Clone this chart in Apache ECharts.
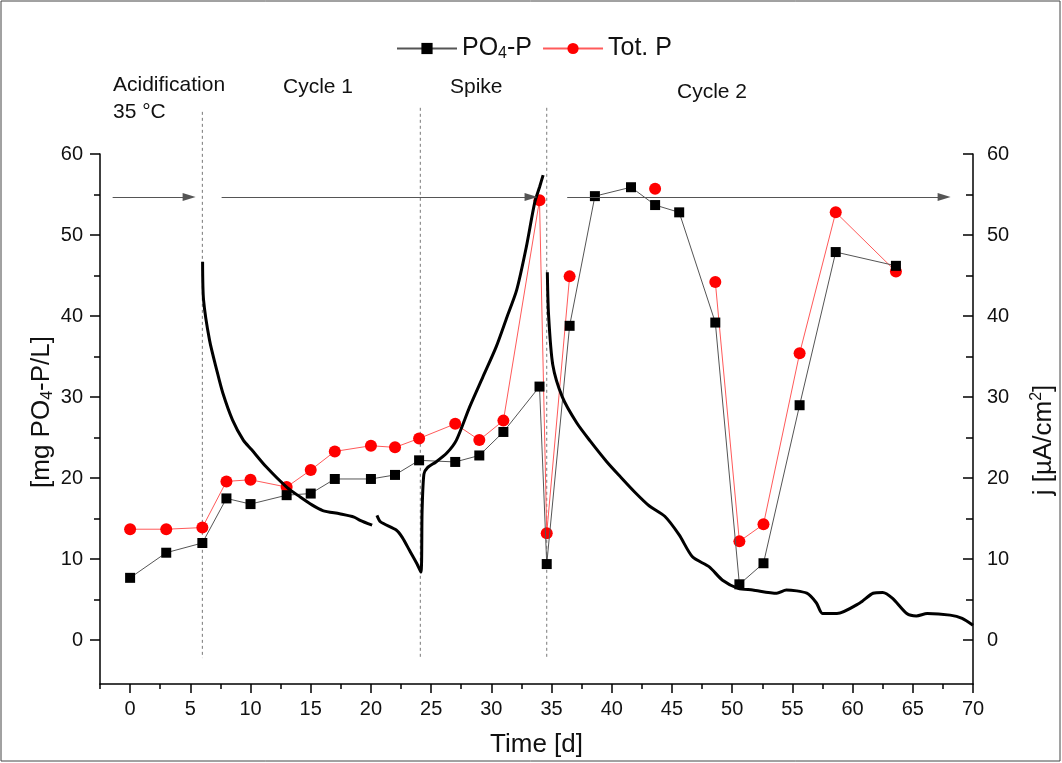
<!DOCTYPE html>
<html>
<head>
<meta charset="utf-8">
<script src="https://cdn.jsdelivr.net/npm/echarts@6/dist/echarts.min.js"></script>
<style>
  html, body { margin: 0; padding: 0; background: #fff; }
  #chart { width: 1062px; height: 763px; }
</style>
</head>
<body>
<div id="chart"></div>
<script>
const FONT = '"Liberation Sans", Arial, sans-serif';

// sampling days of the P measurements
const days = [0, 3, 6, 8, 10, 13, 15, 17, 20, 22, 24, 27, 29, 31, 34, 34.6, 36.5, 38.6, 41.6, 43.6, 45.6, 48.6, 50.6, 52.6, 55.6, 58.6, 63.6];
const po4 = [7.7, 10.8, 12.0, 17.5, 16.8, 17.9, 18.1, 19.9, 19.9, 20.4, 22.2, 22.0, 22.8, 25.7, 31.3, 9.4, 38.8, 54.8, 55.9, 53.7, 52.8, 39.2, 6.9, 9.5, 29.0, 47.9, 46.2];
const totP = [13.7, 13.7, 13.9, 19.6, 19.8, 18.9, 21.0, 23.3, 24.0, 23.8, 24.9, 26.7, 24.7, 27.1, 54.3, 13.2, 44.9, null, null, 55.7, null, 44.2, 12.2, 14.3, 35.4, 52.8, 45.5];

// current density j (right axis), null = gap in the record
const jDays = [6.02, 6.1, 6.6, 7.2, 7.7, 8.5, 9.4, 10.1, 11.3, 13.0, 14.1, 15.1, 16.0, 17.4, 18.6, 19.1, 20.1, 20.3,
  20.5, 20.8, 22.1, 22.6, 23.2, 23.8, 24.15, 24.25, 24.4, 24.7, 25.4, 26.3, 27.1, 28.2, 29.3, 30.4, 31.3, 32.1, 32.9, 33.6, 34.0, 34.3, 34.5,
  34.65, 34.75, 35.1, 35.9, 37.1, 38.2, 39.6, 40.7, 41.9, 43.1, 44.4, 45.6, 46.7, 48.1, 49.2, 50.5, 51.7, 53.7, 54.5, 56.2, 57.0, 57.5,
  58.7, 60.6, 61.7, 62.5, 63.3, 64.5, 65.3, 66.2, 68.1, 69.1, 70.0];
const jValues = [46.7, 42.0, 37.0, 33.3, 30.5, 27.2, 24.7, 23.5, 21.4, 18.9, 17.7, 16.7, 16.0, 15.6, 15.2, 14.8, 14.2, null,
  15.4, 14.6, 13.6, 12.7, 11.1, 9.5, 8.4, 16.0, 20.5, 21.3, 22.0, 23.1, 24.7, 28.8, 32.5, 36.2, 39.9, 43.2, 48.5, 54.0, 55.9, 57.4, null,
  45.4, 40.2, 34.0, 30.0, 26.8, 24.6, 22.0, 20.2, 18.3, 16.6, 15.3, 13.0, 10.3, 9.05, 7.4, 6.4, 6.2, 5.8, 6.2, 5.8, 4.6, 3.3,
  3.3, 4.6, 5.8, 5.9, 5.2, 3.3, 3.0, 3.3, 3.1, 2.7, 1.85];

const xTicks = [0, 5, 10, 15, 20, 25, 30, 35, 40, 45, 50, 55, 60, 65, 70];
const xMinor = [-2.5, 2.5, 7.5, 12.5, 17.5, 22.5, 27.5, 32.5, 37.5, 42.5, 47.5, 52.5, 57.5, 62.5, 67.5];
const yTicks = [0, 10, 20, 30, 40, 50, 60];
const yMinor = [5, 15, 25, 35, 45, 55];

// phase boundaries (dashed) and phase arrows
const phaseBounds = [6.0, 24.1, 34.6];
const phaseTop = [65.2, 65.7, 65.7];
const phaseBottom = -2.2;
const arrowSpans = [[-1.45, 4.9], [7.6, 33.3], [36.3, 67.6]];
const arrowLevel = 54.7;

const chart = echarts.init(document.getElementById('chart'));

const axisLine = { onZero: false, lineStyle: { color: '#000', width: 1.5 } };
const tickLine = { color: '#000', width: 1.5 };
const labelStyle = { color: '#111', fontFamily: FONT };

function minorAxis(extra) {
  return Object.assign({
    type: 'value',
    axisLine: { show: false, onZero: false },
    axisLabel: { show: false },
    splitLine: { show: false }
  }, extra);
}

const option = {
  animation: false,
  backgroundColor: '#fff',
  grid: { left: 100, right: 89, top: 154, bottom: 79, containLabel: false },
  legend: {
    data: ['PO4-P', 'Tot. P'],
    left: 391,
    top: 20,
    itemWidth: 60,
    itemHeight: 14,
    itemGap: 10,
    textStyle: {
      fontFamily: FONT,
      fontSize: 25,
      color: '#111',
      rich: {
        n: { fontFamily: FONT, fontSize: 25, color: '#111', lineHeight: 27 },
        sub: { fontFamily: FONT, fontSize: 16, color: '#111', lineHeight: 14, padding: [21, 0, 0, 0], verticalAlign: 'bottom' }
      }
    },
    formatter: function (name) {
      return name === 'PO4-P' ? '{n|PO}{sub|4}{n|-P}' : '{n|' + name + '}';
    }
  },
  xAxis: [
    {
      type: 'value', min: -2.5, max: 70, position: 'bottom',
      axisLine: axisLine,
      axisTick: { customValues: xTicks, length: 9, lineStyle: tickLine },
      axisLabel: Object.assign({ customValues: xTicks, fontSize: 20, margin: 15 }, labelStyle),
      splitLine: { show: false },
      name: 'Time [d]', nameLocation: 'middle', nameGap: 48,
      nameTextStyle: { fontFamily: FONT, fontSize: 26, color: '#111' }
    },
    minorAxis({ min: -2.5, max: 70, position: 'bottom',
      axisTick: { customValues: xMinor, length: 5, lineStyle: tickLine } })
  ],
  yAxis: [
    {
      type: 'value', min: -5.4, max: 60, position: 'left',
      axisLine: axisLine,
      axisTick: { customValues: yTicks, length: 10, lineStyle: tickLine },
      axisLabel: Object.assign({ customValues: yTicks, fontSize: 20, margin: 17 }, labelStyle),
      splitLine: { show: false }
    },
    {
      type: 'value', min: -5.4, max: 60, position: 'right',
      axisLine: axisLine,
      axisTick: { customValues: yTicks, inside: true, length: 10, lineStyle: tickLine },
      axisLabel: Object.assign({ customValues: yTicks, fontSize: 20, margin: 14 }, labelStyle),
      splitLine: { show: false }
    },
    minorAxis({ min: -5.4, max: 60, position: 'left',
      axisTick: { customValues: yMinor, length: 6, lineStyle: tickLine } }),
    minorAxis({ min: -5.4, max: 60, position: 'right',
      axisTick: { customValues: yMinor, inside: true, length: 7, lineStyle: tickLine } })
  ],
  series: [
    {
      name: 'PO4-P',
      type: 'line',
      data: days.map((d, i) => [d, po4[i]]),
      symbol: 'rect',
      symbolSize: 10,
      itemStyle: { color: '#000' },
      lineStyle: { color: '#555', width: 1 },
      z: 3,
      markLine: {
        silent: true,
        symbol: ['none', 'triangle'],
        symbolSize: [8, 13],
        label: { show: false },
        lineStyle: { color: '#555', width: 1, type: 'solid' },
        data: arrowSpans.map(s => [{ coord: [s[0], arrowLevel] }, { coord: [s[1], arrowLevel] }])
      }
    },
    {
      name: 'Tot. P',
      type: 'line',
      data: days.map((d, i) => [d, totP[i] === null ? '-' : totP[i]]),
      connectNulls: false,
      symbol: 'circle',
      symbolSize: 12,
      itemStyle: { color: '#ff0000' },
      lineStyle: { color: '#ff5a5a', width: 1 },
      z: 2
    },
    {
      name: 'j',
      type: 'line',
      yAxisIndex: 1,
      data: jDays.map((d, i) => [d, jValues[i] === null ? '-' : jValues[i]]),
      connectNulls: false,
      showSymbol: false,
      symbol: 'none',
      smooth: 0.25,
      lineStyle: { color: '#000', width: 3 },
      z: 4
    }
  ]
};

chart.setOption(option);

// annotations placed through the grid's own scales
const graphics = [];
phaseBounds.forEach((t, i) => {
  const a = chart.convertToPixel({ gridIndex: 0 }, [t, phaseTop[i]]);
  const b = chart.convertToPixel({ gridIndex: 0 }, [t, phaseBottom]);
  graphics.push({
    type: 'line', silent: true,
    shape: { x1: a[0], y1: a[1], x2: b[0], y2: b[1] },
    style: { stroke: '#777', lineWidth: 1, lineDash: [3, 3] }
  });
});

const notes = [
  { text: 'Acidification', x: 113, y: 85 },
  { text: '35 °C', x: 113, y: 112 },
  { text: 'Cycle 1', x: 283, y: 87 },
  { text: 'Spike', x: 450, y: 87 },
  { text: 'Cycle 2', x: 677, y: 92 }
];
notes.forEach(n => graphics.push({
  type: 'text', silent: true, x: n.x, y: n.y,
  style: { text: n.text, fontFamily: FONT, fontSize: 21, fill: '#111', verticalAlign: 'middle', align: 'left' }
}));

graphics.push({
  type: 'text', silent: true, x: 42, y: 412, rotation: Math.PI / 2,
  style: {
    text: '{n|[mg PO}{sub|4}{n|-P/L]}', align: 'center', verticalAlign: 'middle',
    rich: {
      n: { fontFamily: FONT, fontSize: 26, fill: '#111', lineHeight: 28 },
      sub: { fontFamily: FONT, fontSize: 16, fill: '#111', lineHeight: 14, padding: [22, 0, 0, 0], verticalAlign: 'bottom' }
    }
  }
});
graphics.push({
  type: 'text', silent: true, x: 1043, y: 440, rotation: Math.PI / 2,
  style: {
    text: '{n|j [µA/cm}{sup|2}{n|]}', align: 'center', verticalAlign: 'middle',
    rich: {
      n: { fontFamily: FONT, fontSize: 26, fill: '#111', lineHeight: 28, verticalAlign: 'bottom' },
      sup: { fontFamily: FONT, fontSize: 16, fill: '#111', lineHeight: 14, verticalAlign: 'top' }
    }
  }
});
graphics.push({
  type: 'rect', silent: true,
  shape: { x: 1, y: 1, width: 1059, height: 760 },
  style: { fill: 'none', stroke: '#444', lineWidth: 1 }
});

chart.setOption({ graphic: graphics });
</script>
</body>
</html>
